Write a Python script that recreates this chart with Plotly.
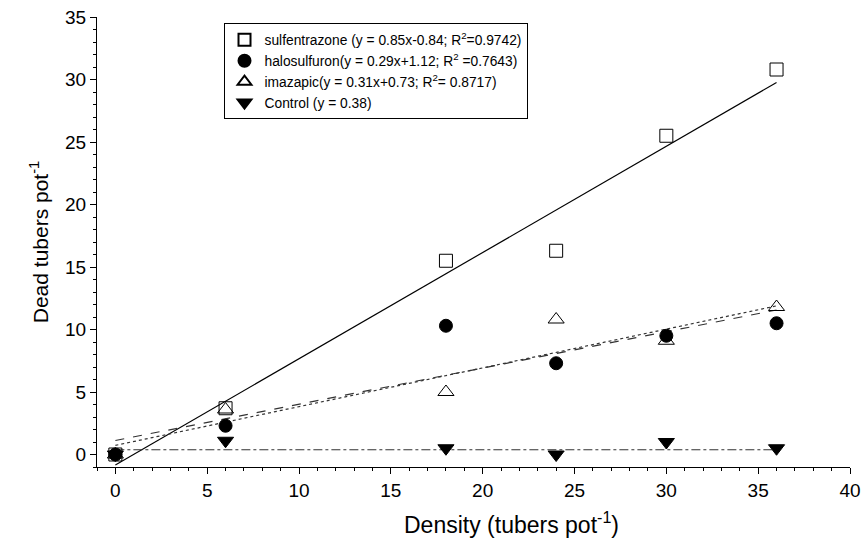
import plotly.graph_objects as go

density = [0, 6, 18, 24, 30, 36]
sulfentrazone = [0, 3.7, 15.5, 16.3, 25.5, 30.8]
halosulfuron = [0, 2.3, 10.3, 7.3, 9.5, 10.5]
imazapic = [0, 3.6, 5.0, 10.8, 9.1, 11.8]
control = [0, 1.1, 0.5, 0.0, 1.0, 0.5]

series_names = [
    "sulfentrazone (y = 0.85x-0.84; R<sup>2</sup>=0.9742)",
    "halosulfuron(y = 0.29x+1.12; R<sup>2</sup> =0.7643)",
    "imazapic(y = 0.31x+0.73; R<sup>2</sup>= 0.8717)",
    "Control (y = 0.38)",
]
slopes = [0.85, 0.29, 0.31, 0.0]
intercepts = [-0.84, 1.12, 0.73, 0.38]
fit_x = [0, 36]

values = [sulfentrazone, halosulfuron, imazapic, control]
symbols = ["square-open", "circle", "triangle-up-open", "triangle-down"]
msizes = [13, 13, 14, 14]
dashes = ["solid", "dash", "dot", "dashdot"]
lcolors = ["#000000", "#333333", "#333333", "#333333"]

fig = go.Figure()
for i in range(4):
    fy = [slopes[i] * x + intercepts[i] for x in fit_x]
    fig.add_trace(go.Scatter(
        x=fit_x, y=fy, mode="lines", showlegend=False,
        line=dict(color=lcolors[i], width=1.2, dash=dashes[i]),
        hoverinfo="skip"))
for i in range(4):
    fig.add_trace(go.Scatter(
        x=density, y=values[i], mode="markers", name=series_names[i],
        marker=dict(symbol=symbols[i], size=msizes[i], color="black",
                    line=dict(color="black", width=1))))

font = "Liberation Sans, Arial, sans-serif"
fig.update_layout(
    width=868, height=539,
    margin=dict(l=97, r=18, t=17, b=72, autoexpand=False),
    plot_bgcolor="white", paper_bgcolor="white",
    font=dict(family=font, color="black"),
    legend=dict(x=0.168, y=0.986, xanchor="left", yanchor="top",
                bordercolor="black", borderwidth=1, bgcolor="white",
                font=dict(size=13.8, family=font), tracegroupgap=0,
                itemsizing="constant"),
    xaxis=dict(range=[-1, 40], tickvals=[0, 5, 10, 15, 20, 25, 30, 35, 40],
               automargin=False,
               showgrid=False, zeroline=False, showline=True, linecolor="black",
               linewidth=1, ticks="outside", ticklen=6, tickcolor="black",
               tickfont=dict(size=19),
               minor=dict(dtick=1, tick0=0, ticks="outside", ticklen=3, tickcolor="black", showgrid=False)),
    yaxis=dict(range=[-1, 35], tickvals=[0, 5, 10, 15, 20, 25, 30, 35],
               automargin=False,
               showgrid=False, zeroline=False, showline=True, linecolor="black",
               linewidth=1, ticks="outside", ticklen=6, tickcolor="black",
               tickfont=dict(size=19),
               minor=dict(dtick=1, tick0=0, ticks="outside", ticklen=3, tickcolor="black", showgrid=False),
               title=dict(text="Dead tubers pot<sup>-1</sup>", font=dict(size=21), standoff=10)),
    annotations=[dict(text="Density (tubers pot<sup>-1</sup>)", xref="paper", yref="paper",
                      x=0.55, y=-0.125, xanchor="center", yanchor="middle",
                      showarrow=False, font=dict(size=23))],
)
fig.write_html("out.html", config={"displayModeBar": False},
               post_script="document.body.style.margin='0';")
